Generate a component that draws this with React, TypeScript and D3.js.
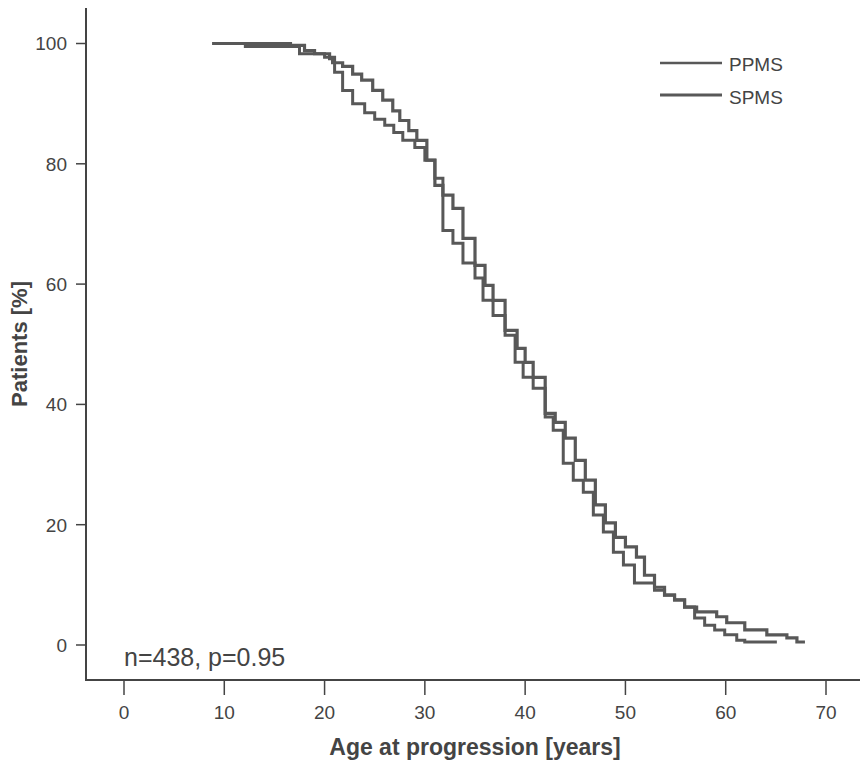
import React from "react";
import * as d3 from "d3";

const xTicks = [0, 10, 20, 30, 40, 50, 60, 70];
const yTicks = [0, 20, 40, 60, 80, 100];

const ppmsTimes = [8.8, 12.1, 17.5, 20.0, 21.0, 21.8, 22.8, 24.0, 25.0, 26.0, 26.9, 27.8, 29.0, 30.0, 31.0, 31.8, 32.8, 33.8, 35.0, 35.8, 36.8, 38.0, 39.0, 39.8, 40.8, 42.0, 42.8, 43.8, 44.8, 45.8, 46.8, 47.8, 48.8, 49.8, 50.9, 52.9, 53.9, 54.9, 55.9, 56.9, 57.9, 58.9, 59.9, 61.1, 61.9];
const ppmsSurv = [100, 99.5, 98.3, 97.7, 95.2, 92.2, 90.0, 88.5, 87.4, 86.4, 85.2, 83.9, 82.7, 80.6, 77.6, 68.9, 66.8, 63.5, 61.0, 57.3, 54.8, 51.5, 47.0, 44.5, 42.7, 37.9, 35.7, 30.2, 27.4, 25.4, 21.6, 18.8, 15.4, 13.3, 10.3, 9.1, 8.3, 7.5, 6.3, 4.5, 3.3, 2.5, 1.7, 0.8, 0.5];
const ppmsEnd = 65.1;

const spmsTimes = [8.8, 16.6, 18.0, 19.0, 20.5, 20.8, 21.8, 22.8, 23.7, 24.8, 25.8, 26.8, 27.5, 28.4, 29.2, 30.2, 31.0, 31.8, 32.8, 33.8, 35.0, 36.0, 36.8, 38.0, 39.2, 40.0, 40.8, 42.0, 43.0, 44.0, 45.0, 46.0, 47.0, 48.0, 49.0, 50.0, 51.1, 51.9, 52.9, 53.9, 54.9, 55.9, 57.1, 59.1, 60.1, 61.9, 64.1, 66.1, 67.1];
const spmsSurv = [100, 99.7, 98.8, 98.3, 97.5, 96.8, 96.2, 94.9, 93.9, 92.2, 90.6, 88.8, 87.2, 85.5, 83.9, 80.6, 76.4, 74.8, 72.6, 67.6, 63.1, 59.8, 57.3, 52.3, 49.3, 47.0, 44.5, 38.5, 37.0, 34.4, 30.7, 27.4, 23.3, 20.3, 17.9, 16.3, 14.6, 11.6, 9.6, 8.3, 7.5, 6.3, 5.5, 4.7, 3.7, 2.5, 1.7, 1.2, 0.5];
const spmsEnd = 67.9;

const seriesNames = ["PPMS", "SPMS"];

const W = 860;
const H = 764;
const FONT = "Liberation Sans, Arial, Helvetica, sans-serif";
const INK = "#444";
const LINE = "#585858";

export default function App() {
  const x = d3.scaleLinear().domain([0, 70]).range([124, 826]);
  const y = d3.scaleLinear().domain([0, 100]).range([645, 43.5]);

  const line = d3
    .line<[number, number]>()
    .x((d) => x(d[0]))
    .y((d) => y(d[1]))
    .curve(d3.curveStepAfter);

  const build = (t: number[], s: number[], end: number): [number, number][] => {
    const pts: [number, number][] = t.map((v, i) => [v, s[i]]);
    pts.push([end, s[s.length - 1]]);
    return pts;
  };

  const series = [
    { name: seriesNames[0], d: line(build(ppmsTimes, ppmsSurv, ppmsEnd)) || "", w: 3 },
    { name: seriesNames[1], d: line(build(spmsTimes, spmsSurv, spmsEnd)) || "", w: 3.2 },
  ];

  const axisX0 = 86;
  const axisY0 = 680;

  return (
    <svg
      width={W}
      height={H}
      style={{ position: "absolute", left: 0, top: 0, background: "#fff" }}
      fontFamily={FONT}
    >
      <rect x={0} y={0} width={W} height={H} fill="#fff" />
      {/* axes */}
      <line x1={axisX0} y1={8} x2={axisX0} y2={axisY0 + 1} stroke={INK} strokeWidth={2} />
      <line x1={axisX0} y1={axisY0} x2={W} y2={axisY0} stroke={INK} strokeWidth={2} />
      {yTicks.map((t) => (
        <g key={"y" + t}>
          <line x1={76} x2={axisX0} y1={y(t)} y2={y(t)} stroke={INK} strokeWidth={1.5} />
          <text x={67} y={y(t)} dy="0.36em" textAnchor="end" fontSize={19} fill={INK}>
            {t}
          </text>
        </g>
      ))}
      {xTicks.map((t) => (
        <g key={"x" + t}>
          <line x1={x(t)} x2={x(t)} y1={axisY0} y2={axisY0 + 15} stroke={INK} strokeWidth={1.5} />
          <text x={x(t)} y={719} textAnchor="middle" fontSize={19} fill={INK}>
            {t}
          </text>
        </g>
      ))}
      <text x={475} y={755} textAnchor="middle" fontSize={23} fontWeight="bold" fill={INK}>
        Age at progression [years]
      </text>
      <text
        transform={`translate(27,344) rotate(-90)`}
        textAnchor="middle"
        fontSize={22}
        fontWeight="bold"
        fill={INK}
      >
        Patients [%]
      </text>
      <text x={124} y={666} fontSize={25} fill={INK}>
        n=438, p=0.95
      </text>
      {/* curves */}
      {series.map((s) => (
        <path key={s.name} d={s.d} fill="none" stroke={LINE} strokeWidth={s.w} strokeLinejoin="miter" />
      ))}
      {/* legend */}
      {series.map((s, i) => (
        <g key={"lg" + s.name}>
          <line x1={660} x2={722} y1={63 + i * 32} y2={63 + i * 32} stroke={LINE} strokeWidth={i === 0 ? 2.5 : 3} />
          <text x={729} y={64 + i * 33} dy="0.36em" fontSize={19} fill={INK}>
            {s.name}
          </text>
        </g>
      ))}
    </svg>
  );
}
